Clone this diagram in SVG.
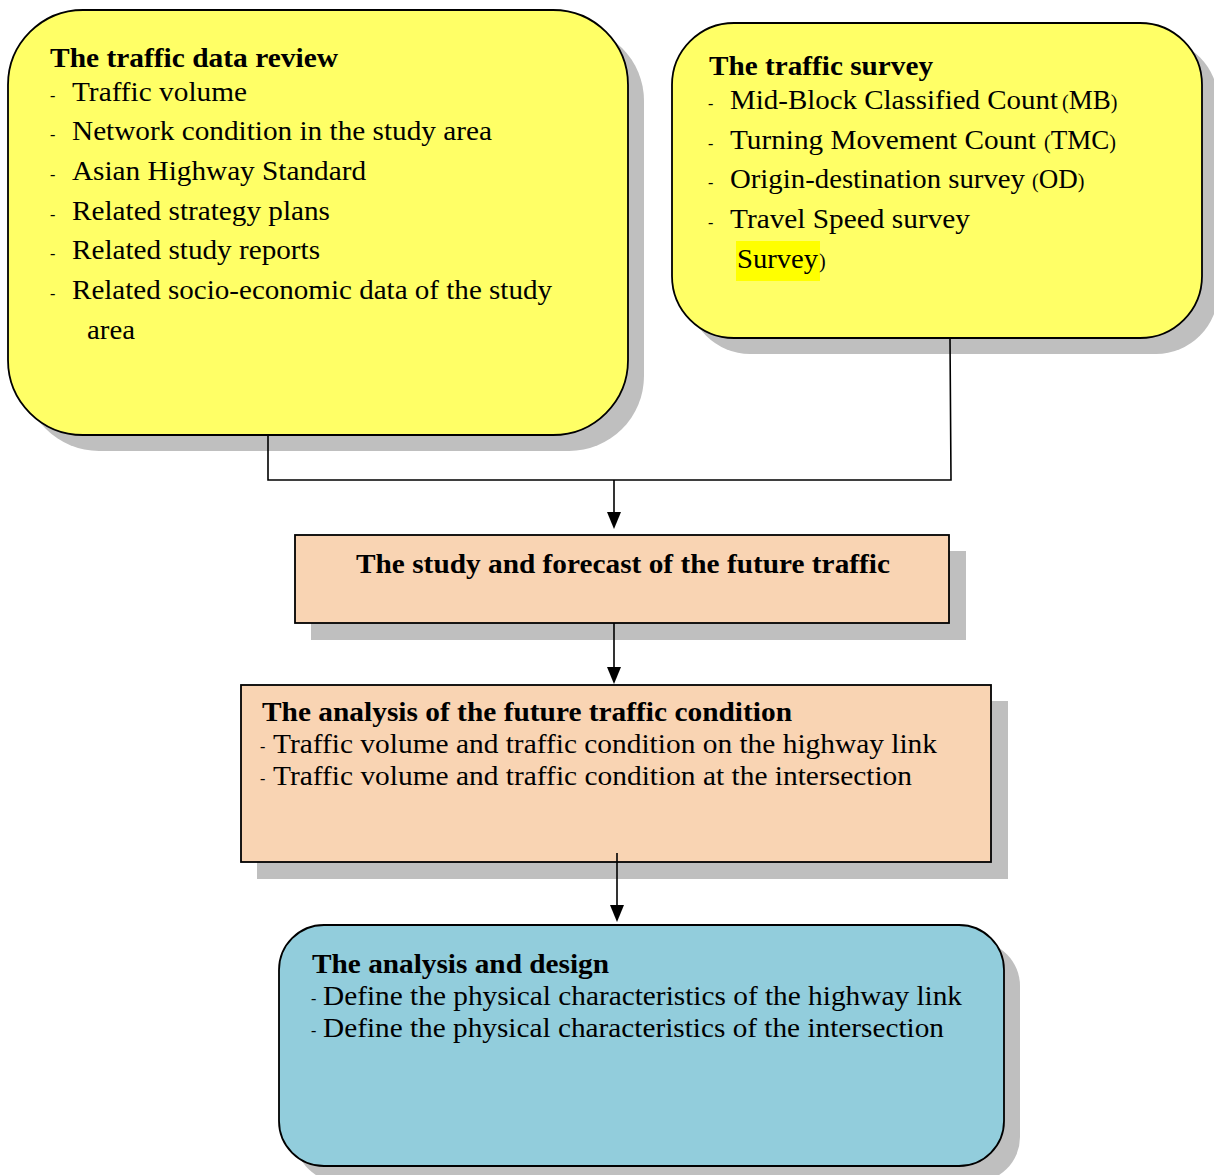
<svg xmlns="http://www.w3.org/2000/svg" width="1214" height="1175" viewBox="0 0 1214 1175">
<defs>
<style>
.t{font-family:"Liberation Serif","Times New Roman",Times,serif;font-size:27px;fill:#000}
.b{font-weight:bold}
.d{font-size:16px}
.p{font-size:20px}
.sh{fill:#BFBFBF}
.box{stroke:#000;stroke-width:1.8}
.y{fill:#FFFF66}
.o{fill:#F9D4B3}
.c{fill:#92CDDC}
.ln{fill:none;stroke:#000;stroke-width:1.6}
.ah{fill:#000}
</style>
</defs>
<rect width="1214" height="1175" fill="#fff"/>

<g id="node-review" font-family="Liberation Serif, Times New Roman, serif">
<rect class="sh" x="24" y="26" width="620" height="425" rx="75"/>
<rect class="box y" x="8" y="10" width="620" height="425" rx="75"/>
<text class="t b" x="50" y="67" textLength="288" lengthAdjust="spacingAndGlyphs">The traffic data review</text>
<text class="t d" x="50" y="101">-</text><text class="t" x="72" y="101" textLength="175" lengthAdjust="spacingAndGlyphs">Traffic volume</text>
<text class="t d" x="50" y="140">-</text><text class="t" x="72" y="140" textLength="420" lengthAdjust="spacingAndGlyphs">Network condition in the study area</text>
<text class="t d" x="50" y="180">-</text><text class="t" x="72" y="180" textLength="294" lengthAdjust="spacingAndGlyphs">Asian Highway Standard</text>
<text class="t d" x="50" y="220">-</text><text class="t" x="72" y="220" textLength="258" lengthAdjust="spacingAndGlyphs">Related strategy plans</text>
<text class="t d" x="50" y="259">-</text><text class="t" x="72" y="259" textLength="248" lengthAdjust="spacingAndGlyphs">Related study reports</text>
<text class="t d" x="50" y="299">-</text><text class="t" x="72" y="299" textLength="480" lengthAdjust="spacingAndGlyphs">Related socio-economic data of the study</text>
<text class="t" x="87" y="339" textLength="48" lengthAdjust="spacingAndGlyphs">area</text>
</g>

<g id="node-survey">
<rect class="sh" x="688" y="39" width="530" height="315" rx="62"/>
<rect class="box y" x="672" y="23" width="530" height="315" rx="62"/>
<text class="t b" x="709" y="75" textLength="224" lengthAdjust="spacingAndGlyphs">The traffic survey</text>
<text class="t d" x="708" y="109">-</text><text class="t" x="730" y="109" textLength="328" lengthAdjust="spacingAndGlyphs">Mid-Block Classified Count</text>
<text class="t" x="1062" y="109"><tspan class="p">(</tspan>MB<tspan class="p">)</tspan></text>
<text class="t d" x="708" y="149">-</text><text class="t" x="730" y="149" textLength="306" lengthAdjust="spacingAndGlyphs">Turning Movement Count</text>
<text class="t" x="1044" y="149"><tspan class="p">(</tspan>TMC<tspan class="p">)</tspan></text>
<text class="t d" x="708" y="188">-</text><text class="t" x="730" y="188" textLength="295" lengthAdjust="spacingAndGlyphs">Origin-destination survey</text>
<text class="t" x="1032" y="188"><tspan class="p">(</tspan>OD<tspan class="p">)</tspan></text>
<text class="t d" x="708" y="228">-</text><text class="t" x="730" y="228" textLength="240" lengthAdjust="spacingAndGlyphs">Travel Speed survey</text>
<rect x="736" y="241" width="84" height="40" fill="#FFFF00"/>
<text class="t" x="737" y="268" textLength="81" lengthAdjust="spacingAndGlyphs">Survey</text>
<text class="t p" x="819" y="268">)</text>
</g>

<g id="node-forecast">
<rect class="sh" x="311" y="551" width="655" height="89"/>
<rect class="box o" x="295" y="535" width="654" height="88"/>
<text class="t b" x="356" y="573" textLength="534" lengthAdjust="spacingAndGlyphs">The study and forecast of the future traffic</text>
</g>

<g id="node-condition">
<rect class="sh" x="257" y="701" width="751" height="178"/>
<rect class="box o" x="241" y="685" width="750" height="177"/>
<text class="t b" x="262" y="721" textLength="530" lengthAdjust="spacingAndGlyphs">The analysis of the future traffic condition</text>
<text class="t d" x="260" y="752">-</text><text class="t" x="273" y="753" textLength="664" lengthAdjust="spacingAndGlyphs">Traffic volume and traffic condition on the highway link</text>
<text class="t d" x="260" y="784">-</text><text class="t" x="273" y="785" textLength="639" lengthAdjust="spacingAndGlyphs">Traffic volume and traffic condition at the intersection</text>
</g>

<g id="node-design">
<rect class="sh" x="295" y="941" width="725" height="241" rx="45"/>
<rect class="box c" x="279" y="925" width="725" height="241" rx="45"/>
<text class="t b" x="312" y="973" textLength="297" lengthAdjust="spacingAndGlyphs">The analysis and design</text>
<text class="t d" x="311" y="1004">-</text><text class="t" x="323" y="1005" textLength="639" lengthAdjust="spacingAndGlyphs">Define the physical characteristics of the highway link</text>
<text class="t d" x="311" y="1036">-</text><text class="t" x="323" y="1037" textLength="621" lengthAdjust="spacingAndGlyphs">Define the physical characteristics of the intersection</text>
</g>

<g id="connectors">
<polyline class="ln" points="268,435 268,480 951,480 950,338"/>
<line class="ln" x1="614" y1="480" x2="614" y2="512"/>
<path class="ah" d="M607,512 L621,512 L614,529 Z"/>
<line class="ln" x1="614" y1="623" x2="614" y2="667"/>
<path class="ah" d="M607,667 L621,667 L614,684 Z"/>
<line class="ln" x1="617" y1="853" x2="617" y2="905"/>
<path class="ah" d="M610,905 L624,905 L617,922 Z"/>
</g>
</svg>
